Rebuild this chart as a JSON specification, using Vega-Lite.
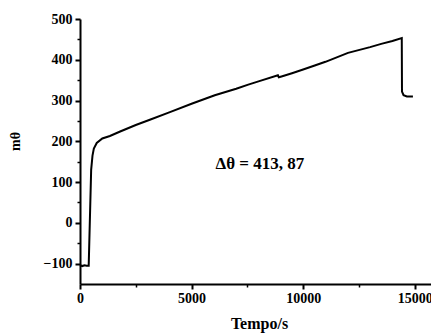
{
  "$schema": "https://vega.github.io/schema/vega-lite/v6.json",
  "width": 351,
  "height": 265,
  "autosize": {"type": "none"},
  "padding": {"left": 80, "top": 19, "right": 0, "bottom": 50},
  "background": "white",
  "config": {
    "view": {"stroke": null},
    "font": "Liberation Serif",
    "axis": {
      "grid": false,
      "domainColor": "black",
      "domainWidth": 2,
      "tickColor": "black",
      "labelColor": "black",
      "titleColor": "black",
      "labelFont": "Liberation Serif",
      "titleFont": "Liberation Serif",
      "labelFontWeight": "bold",
      "titleFontWeight": "bold",
      "labelFontSize": 14,
      "titleFontSize": 16,
      "labelFlush": false,
      "labelOverlap": false,
      "labelBound": false
    }
  },
  "datasets": {
    "curve": [
      {"t": 0, "m": -104}, {"t": 100, "m": -106}, {"t": 200, "m": -104}, {"t": 300, "m": -105},
      {"t": 390, "m": -105}, {"t": 500, "m": 130}, {"t": 560, "m": 165}, {"t": 620, "m": 182},
      {"t": 750, "m": 196}, {"t": 1000, "m": 207}, {"t": 1340, "m": 213}, {"t": 1800, "m": 224},
      {"t": 2500, "m": 240}, {"t": 3130, "m": 253}, {"t": 4000, "m": 271}, {"t": 5000, "m": 292},
      {"t": 6040, "m": 313}, {"t": 7000, "m": 329}, {"t": 7540, "m": 339}, {"t": 8000, "m": 347},
      {"t": 8870, "m": 362}, {"t": 8910, "m": 357}, {"t": 9030, "m": 359}, {"t": 9500, "m": 367},
      {"t": 10000, "m": 376}, {"t": 10520, "m": 386}, {"t": 11000, "m": 395}, {"t": 12010, "m": 417},
      {"t": 13000, "m": 431}, {"t": 13500, "m": 439}, {"t": 14000, "m": 446}, {"t": 14420, "m": 453},
      {"t": 14430, "m": 322}, {"t": 14500, "m": 313}, {"t": 14650, "m": 310}, {"t": 14920, "m": 310}
    ],
    "note": [{"t": 8060, "m": 145, "label": "Δθ = 413, 87"}]
  },
  "resolve": {"axis": {"x": "independent", "y": "independent"}},
  "layer": [
    {
      "data": {"name": "curve"},
      "mark": {"type": "line", "opacity": 0},
      "encoding": {
        "x": {
          "field": "t", "type": "quantitative",
          "scale": {"domain": [0, 15730], "nice": false, "zero": false},
          "axis": {"orient": "bottom", "title": null, "values": [2500, 7500, 12500], "labels": false, "tickSize": 3, "tickWidth": 1.5, "domain": false}
        },
        "y": {
          "field": "m", "type": "quantitative",
          "scale": {"domain": [-150, 500], "nice": false, "zero": false},
          "axis": {"orient": "left", "title": null, "values": [-50, 50, 150, 250, 350, 450], "labels": false, "tickSize": 3, "tickWidth": 1.5, "domain": false}
        }
      }
    },
    {
      "data": {"name": "curve"},
      "mark": {"type": "line", "color": "black", "strokeWidth": 2},
      "encoding": {
        "x": {
          "field": "t", "type": "quantitative",
          "axis": {"orient": "bottom", "title": "Tempo/s", "values": [0, 5000, 10000, 15000], "tickSize": 5, "tickWidth": 2,
                   "labelPadding": 2, "titleX": 179, "titleY": 44, "titleBaseline": "alphabetic", "format": "d"}
        },
        "y": {
          "field": "m", "type": "quantitative",
          "axis": {"orient": "left", "title": "mθ", "values": [-100, 0, 100, 200, 300, 400, 500], "tickSize": 5, "tickWidth": 2,
                   "labelPadding": 3, "titleX": -65, "titleY": 122, "titleBaseline": "middle", "titleAlign": "center", "titleFontSize": 14}
        }
      }
    },
    {
      "data": {"name": "note"},
      "mark": {"type": "text", "font": "Liberation Serif", "fontWeight": "bold", "fontSize": 17, "color": "black", "align": "center", "baseline": "middle"},
      "encoding": {
        "x": {"field": "t", "type": "quantitative", "axis": null},
        "y": {"field": "m", "type": "quantitative", "axis": null},
        "text": {"field": "label"}
      }
    }
  ]
}
